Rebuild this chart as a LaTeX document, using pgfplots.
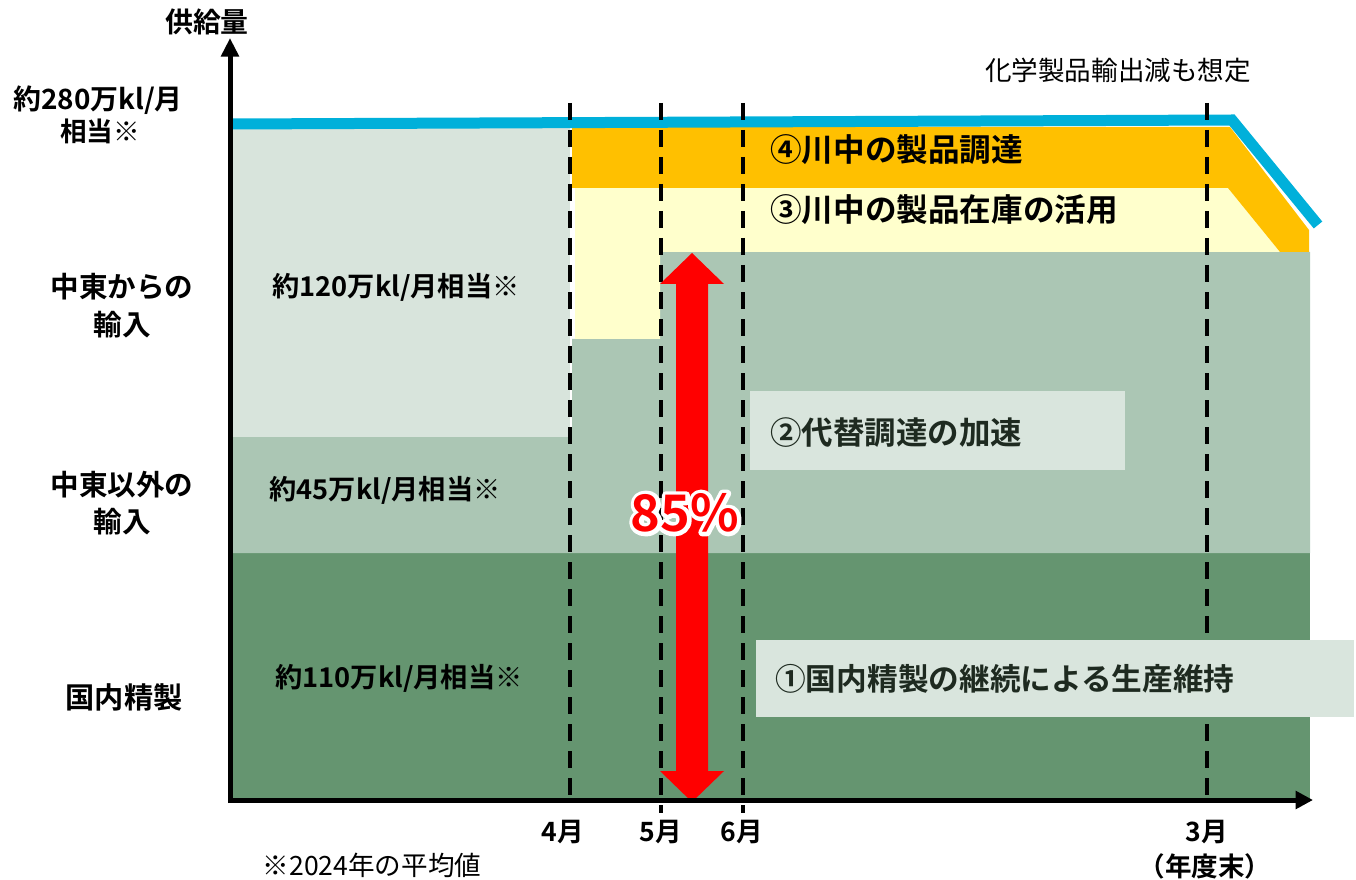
\documentclass[border=0pt]{standalone}
\usepackage{fontspec}
\setmainfont{Noto Sans CJK JP}[BoldFont={Noto Sans CJK JP Bold}]
\usepackage{pgfplots}
\pgfplotsset{compat=1.18}
\usetikzlibrary{arrows.meta}

\definecolor{dkgreen}{HTML}{659570}
\definecolor{mdgreen}{HTML}{ABC6B4}
\definecolor{ltgreen}{HTML}{D8E4DC}
\definecolor{ltyellow}{HTML}{FFFFCC}
\definecolor{orng}{HTML}{FFC000}
\definecolor{skyblue}{HTML}{00B0DA}
\definecolor{boxc}{HTML}{D9E5DD}
\definecolor{boxtxt}{HTML}{1E2A20}

\newcommand{\fs}[1]{\fontsize{#1}{#1}\selectfont}

\begin{document}
\begin{tikzpicture}
\begin{axis}[
    width=1017bp, height=659.25bp, scale only axis,
    xmin=0, xmax=1356, ymin=0, ymax=879,
    hide axis, clip=false,
]
% stacked areas (pixel-like units)
\addplot[draw=none, fill=dkgreen] coordinates {(230,79) (230,326) (1310,326) (1310,79)} -- cycle;
\addplot[draw=none, fill=mdgreen] coordinates {(230,326) (230,442) (572,442) (572,540) (660,540) (660,627) (1310,627) (1310,326)} -- cycle;
\addplot[draw=none, fill=ltgreen] coordinates {(230,442) (230,754) (570,754) (570,442)} -- cycle;
\addplot[draw=none, fill=ltyellow] coordinates {(575,540) (575,691) (1228,691) (1280,627) (660,627) (660,540)} -- cycle;
\addplot[draw=none, fill=orng] coordinates {(572,752) (1230,752) (1309,649) (1309,627) (1280,627) (1228,691) (572,691)} -- cycle;
% total supply line
\addplot[skyblue, line width=8.25bp, line join=miter] coordinates {(230,755) (1232,759) (1318,654)};

% month markers
\addplot[black, line width=2.6bp, dash pattern=on 12.75bp off 7.5bp] coordinates {(570,776) (570,80)};
\addplot[black, line width=2.6bp, dash pattern=on 12.75bp off 7.5bp] coordinates {(661,776) (661,66)};
\addplot[black, line width=2.6bp, dash pattern=on 12.75bp off 7.5bp] coordinates {(743,776) (743,66)};
\addplot[black, line width=2.6bp, dash pattern=on 12.75bp off 7.5bp] coordinates {(1207,776) (1207,80)};

% text boxes
\fill[boxc] (axis cs:750,409) rectangle (axis cs:1125,488);
\fill[boxc] (axis cs:756,162) rectangle (axis cs:1354,239);

% red double arrow
\addplot[draw=none, fill=red] coordinates {(692,626) (724,595) (708,595) (708,108) (724,108) (692,77) (660,108) (676,108) (676,595) (660,595)} -- cycle;

% axes
\addplot[black, line width=3.75bp, -{Triangle[length=14bp,width=13bp]}] coordinates {(230,76) (230,841)};
\addplot[black, line width=3.75bp, -{Triangle[length=13bp,width=13bp]}] coordinates {(228,79) (1313,79)};

% labels
\node[font=\bfseries\fs{21}] at (axis cs:207,857) {供給量};
\node[font=\bfseries\fs{21}] at (axis cs:98,779) {約280万kl/月};
\node[font=\bfseries\fs{20}] at (axis cs:100,748) {相当※};
\node[font=\fs{20}] at (axis cs:1118,809) {化学製品輸出減も想定};

\node[font=\bfseries\fs{23.8}, anchor=west, inner sep=0pt] at (axis cs:770,729) {④川中の製品調達};
\node[font=\bfseries\fs{23.8}, anchor=west, inner sep=0pt] at (axis cs:770,669) {③川中の製品在庫の活用};
\node[font=\bfseries\fs{23.7}, anchor=west, inner sep=0pt, text=boxtxt] at (axis cs:770,446) {②代替調達の加速};
\node[font=\bfseries\fs{23.1}, anchor=west, inner sep=0pt, text=boxtxt] at (axis cs:775,200) {①国内精製の継続による生産維持};

\node[font=\bfseries\fs{21.5}] at (axis cs:122,592) {中東からの};
\node[font=\bfseries\fs{21.5}] at (axis cs:122,554) {輸入};
\node[font=\bfseries\fs{21.5}] at (axis cs:122,394) {中東以外の};
\node[font=\bfseries\fs{21.5}] at (axis cs:122,357) {輸入};
\node[font=\bfseries\fs{22}] at (axis cs:124,182) {国内精製};

\node[font=\bfseries\fs{20.5}] at (axis cs:396,592) {約120万kl/月相当※};
\node[font=\bfseries\fs{20.5}] at (axis cs:385,389) {約45万kl/月相当※};
\node[font=\bfseries\fs{20.5}] at (axis cs:399,201) {約110万kl/月相当※};

% 85% with white halo (stroked copy underneath)
\node[font=\bfseries\fs{38}, text=white] at (axis cs:685,366)
  {\special{pdf:literal 2 Tr 1 1 1 RG 6 w 1 j}85\%\special{pdf:literal 0 Tr}};
\node[font=\bfseries\fs{38}, text=red] at (axis cs:685,366) {85\%};

\node[font=\bfseries\fs{20}] at (axis cs:563,47) {4月};
\node[font=\bfseries\fs{20}] at (axis cs:661,47) {5月};
\node[font=\bfseries\fs{20}] at (axis cs:742,47) {6月};
\node[font=\bfseries\fs{20}] at (axis cs:1207,47) {3月};
\node[font=\bfseries\fs{20}] at (axis cs:1205,13) {（年度末）};
\node[font=\fs{20}] at (axis cs:372,14) {※2024年の平均値};

\coordinate (ll) at (axis cs:0,0);
\coordinate (ur) at (axis cs:1356,879);
\end{axis}
\pgfresetboundingbox
\path (ll) rectangle (ur);
\end{tikzpicture}
\end{document}
